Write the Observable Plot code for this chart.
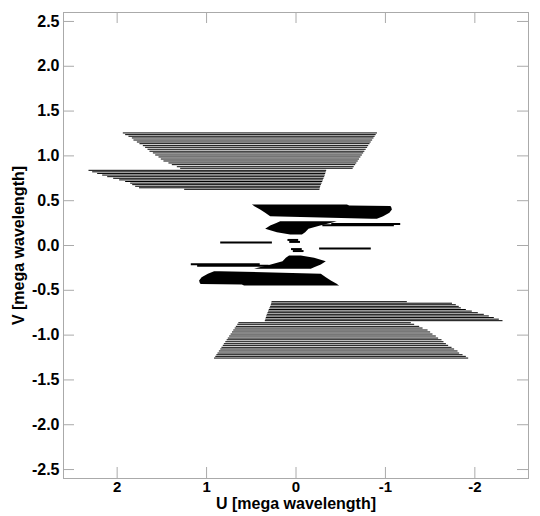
<!DOCTYPE html>
<html><head><meta charset="utf-8">
<script src="https://cdn.jsdelivr.net/npm/d3@7"></script>
<script src="https://cdn.jsdelivr.net/npm/@observablehq/plot@0.6"></script>
<style>body{margin:0;background:#fff}#chart svg{display:block}</style>
</head><body><div id="chart"></div>
<script>
// Tick labels
const xTicks = [2, 1, 0, -1, -2];
const yTicks = [-2.5, -2, -1.5, -1, -0.5, 0, 0.5, 1, 1.5, 2, 2.5];
const xLabel = "U [mega wavelength]";
const yLabel = "V [mega wavelength]";

// Upper outer track group A (v, u start, u end) in mega wavelength
const aV  = [1.256,1.237,1.219,1.200,1.177,1.155,1.136,1.114,1.096,1.074,1.052,1.033,1.010,0.988,0.965,0.943,0.921,0.902,0.879,0.862];
const aU1 = [1.931,1.905,1.868,1.830,1.812,1.774,1.745,1.707,1.682,1.655,1.633,1.595,1.569,1.532,1.506,1.477,1.421,1.383,1.327,1.290];
const aU2 = [-0.911,-0.897,-0.885,-0.872,-0.857,-0.841,-0.828,-0.813,-0.801,-0.785,-0.770,-0.757,-0.742,-0.726,-0.710,-0.696,-0.680,-0.667,-0.651,-0.639];
// Upper outer track group B
const bV  = [0.839,0.822,0.804,0.786,0.768,0.750,0.732,0.714,0.696,0.679,0.661,0.644,0.627];
const bU1 = [2.315,2.274,2.218,2.162,2.106,2.039,1.972,1.905,1.849,1.826,1.793,1.750,1.245];
const bU2 = [-0.343,-0.338,-0.332,-0.327,-0.321,-0.313,-0.306,-0.299,-0.291,-0.284,-0.276,-0.272,-0.268];
// Lower outer track group A'
const a2V  = [-1.256,-1.237,-1.219,-1.200,-1.177,-1.155,-1.136,-1.114,-1.096,-1.074,-1.052,-1.033,-1.010,-0.988,-0.965,-0.943,-0.921,-0.902,-0.879,-0.862];
const a2U1 = [0.911,0.897,0.885,0.872,0.857,0.841,0.828,0.813,0.801,0.785,0.770,0.757,0.742,0.726,0.710,0.696,0.680,0.667,0.651,0.639];
const a2U2 = [-1.931,-1.905,-1.868,-1.830,-1.812,-1.774,-1.745,-1.707,-1.682,-1.655,-1.633,-1.595,-1.569,-1.532,-1.506,-1.477,-1.421,-1.383,-1.327,-1.290];
// Lower outer track group B'
const b2V  = [-0.839,-0.822,-0.804,-0.786,-0.768,-0.750,-0.732,-0.714,-0.696,-0.679,-0.661,-0.644,-0.627];
const b2U1 = [0.343,0.338,0.332,0.327,0.321,0.313,0.306,0.299,0.291,0.284,0.276,0.272,0.268];
const b2U2 = [-2.315,-2.274,-2.218,-2.162,-2.106,-2.039,-1.972,-1.905,-1.849,-1.826,-1.793,-1.750,-1.245];

// Short central tracks (drawn thicker)
const sV  = [0.240, 0.225, 0.033, 0.062, 0.040, -0.040, -0.062, -0.033, -0.210, -0.225];
const sU1 = [-0.40, -0.30, 0.842, 0.09, 0.07, 0.05, 0.03, -0.264, 1.171, 1.100];
const sU2 = [-1.171, -1.100, 0.264, -0.03, -0.05, -0.07, -0.09, -0.842, 0.40, 0.30];

// Dense central bands: outline as (v, u left edge, u right edge)
const c1V = [0.292, 0.321, 0.359, 0.396, 0.425, 0.436, 0.440, 0.452];
const c1L = [-0.85, 0.283, 0.339, 0.395, 0.445, 0.465, 0.470, 0.488];
const c1R = [-0.91, -0.980, -1.050, -1.078, -1.070, -1.060, -0.600, -0.575];
const c2V = [0.117, 0.143, 0.181, 0.218, 0.248, 0.266];
const c2L = [0.059, 0.208, 0.339, 0.283, 0.208, 0.171];
const c2R = [-0.072, -0.108, -0.145, -0.276, -0.400, -0.463];
const c3V = [-0.266, -0.248, -0.218, -0.181, -0.143, -0.117];
const c3L = [0.463, 0.400, 0.276, 0.145, 0.108, 0.072];
const c3R = [-0.171, -0.208, -0.283, -0.339, -0.208, -0.059];
const c4V = [-0.452, -0.440, -0.436, -0.425, -0.396, -0.359, -0.321, -0.292];
const c4L = [0.575, 0.600, 1.060, 1.070, 1.078, 1.050, 0.980, 0.91];
const c4R = [-0.488, -0.470, -0.465, -0.445, -0.395, -0.339, -0.283, 0.85];

function rows(V, U1, U2) { return V.map((v, i) => ({v, u1: U1[i], u2: U2[i]})); }
const thin = [...rows(aV,aU1,aU2), ...rows(bV,bU1,bU2), ...rows(a2V,a2U1,a2U2), ...rows(b2V,b2U1,b2U2)];
const thick = rows(sV, sU1, sU2);
const bands = [rows(c1V,c1L,c1R), rows(c2V,c2L,c2R), rows(c3V,c3L,c3R), rows(c4V,c4L,c4R)];

const font = "'Liberation Sans', Arial, Helvetica, sans-serif";
const gray = "#aaaaaa";

const plot = Plot.plot({
  width: 540, height: 516,
  marginLeft: 63, marginRight: 12, marginTop: 12, marginBottom: 38,
  style: {fontFamily: font, background: "#fff"},
  x: {domain: [2.6, -2.6], axis: null},
  y: {domain: [-2.6, 2.6], axis: null},
  marks: [
    Plot.ruleY(thin, {y: "v", x1: "u1", x2: "u2", stroke: "#000", strokeWidth: 1}),
    Plot.ruleY(thick, {y: "v", x1: "u1", x2: "u2", stroke: "#000", strokeWidth: 2}),
    ...bands.map(b => Plot.areaX(b, {y: "v", x1: "u1", x2: "u2", fill: "#000"})),
    Plot.frame({stroke: gray}),
    Plot.tickX(xTicks, {x: d => d, insetTop: 455, stroke: gray}),
    Plot.tickX(xTicks, {x: d => d, insetBottom: 455, stroke: gray}),
    Plot.tickY(yTicks, {y: d => d, insetRight: 454, stroke: gray}),
    Plot.tickY(yTicks, {y: d => d, insetLeft: 454, stroke: gray}),
    Plot.axisX(xTicks, {anchor: "bottom", tickSize: 0, tickPadding: 3, tickFormat: d => String(d),
      fontSize: 15, fontWeight: "bold", fill: "#000", label: null}),
    Plot.axisY(yTicks, {anchor: "left", tickSize: 0, tickPadding: 4, tickFormat: d => d.toFixed(1),
      fontSize: 16, fontWeight: "bold", fill: "#000", label: null}),
    Plot.text([xLabel], {text: d => d, frameAnchor: "bottom", dy: 19, lineAnchor: "top",
      textAnchor: "middle", fontSize: 16, fontWeight: "bold", fill: "#000"}),
    Plot.text([yLabel], {text: d => d, frameAnchor: "left", dx: -45, rotate: -90,
      textAnchor: "middle", fontSize: 16, fontWeight: "bold", fill: "#000"})
  ]
});
document.getElementById("chart").appendChild(plot);
</script>
</body></html>
